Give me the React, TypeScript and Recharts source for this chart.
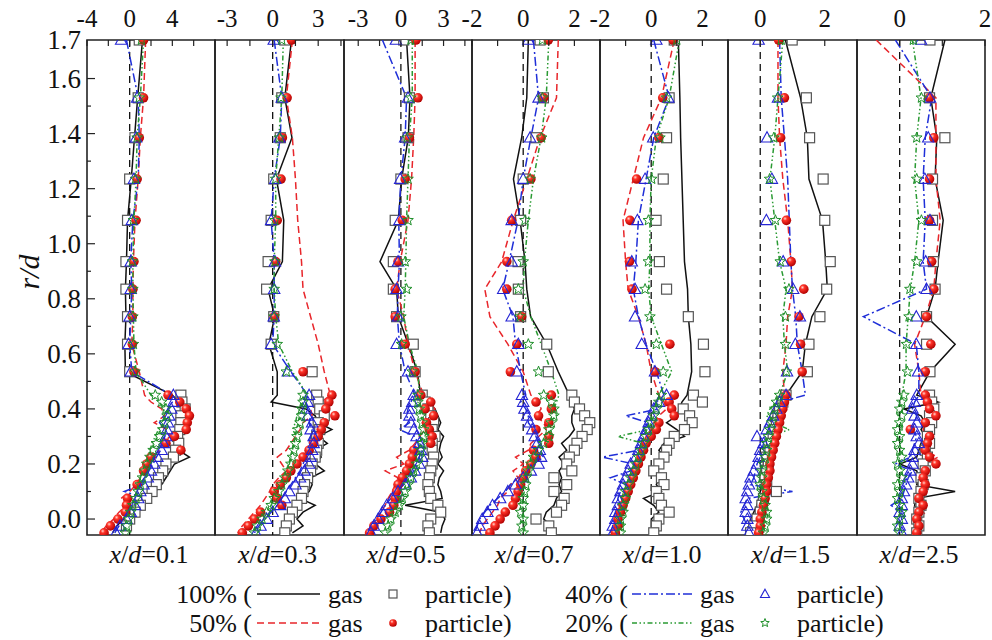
import React from 'react';
import { ScatterChart, Scatter, XAxis, YAxis, ReferenceLine, ReferenceArea } from 'recharts';

const FONT = 'Liberation Serif, Times New Roman, DejaVu Serif, serif';
const serif = { fontFamily: FONT };

// r/d levels: sparse outer positions, then the dense core
const rLevels = [1.74, 1.53, 1.385, 1.235, 1.085, 0.935, 0.835, 0.735, 0.635, 0.535,
  0.45, 0.425, 0.4, 0.375, 0.35, 0.325, 0.3, 0.275, 0.25, 0.225, 0.2, 0.175, 0.15, 0.125, 0.1, 0.075, 0.05, 0.025, 0, -0.025, -0.05];

// x/d = 0.1
const p1Gas100 = [1.2, 0.75, 0.45, 0.15, -0.2, -0.3, -0.4, -0.35, -0.45, -0.4, 4.0, 4.6, 5.0, 4.7, 5.1, 4.6, 4.9, 4.5, 4.6, 5.6, 4.2, 3.8, 3.4, 3.0, 2.4, 1.8, 1.0, 0.3, -0.6, -1.2, -1.6];
const p1Part100 = [0.9, 0.8, 0.5, 0.0, -0.2, -0.35, -0.35, -0.2, -0.2, 0.0, 4.8, 4.9, 5.2, 4.8, 4.8, 4.7, 4.5, 4.6, 4.3, 4.1, 3.4, 3.1, 2.7, 2.5, 2.1, 1.6, 1.0, 0.5, 0.0, -0.3, null];
const p1Gas50 = [1.5, 1.3, 1.0, 0.8, 0.5, 0.35, 0.3, 0.3, 0.2, 0.9, 1.4, 2.0, 3.0, 3.3, 2.3, 3.5, 3.8, 3.0, 2.8, 2.2, 1.8, 1.5, 1.0, 0.6, 0.0, -0.8, -0.3, -1.0, -1.5, -2.2, -2.7];
const p1Part50 = [1.3, 1.3, 0.9, 0.7, 0.6, 0.4, 0.3, 0.25, 0.25, 0.4, 3.6, 4.7, 5.3, 5.6, 5.4, 5.3, 4.2, 3.4, 4.8, 2.0, 1.6, 1.3, null, 0.7, null, -0.2, -0.3, -0.4, -1.1, -1.8, -2.4];
const p1Gas40 = [-0.3, 0.8, 0.9, 0.8, 0.3, 0.1, 0.2, 0.1, 0.0, 0.2, 3.9, 4.0, 3.6, 3.2, 2.8, 3.4, 3.3, 3.0, 2.9, 2.5, 2.2, 1.8, 1.5, 1.2, -0.5, 1.5, 0.4, 0.0, -0.5, -1.0, -1.4];
const p1Part40 = [-0.8, 0.7, 0.6, 0.4, 0.2, 0.1, 0.1, 0.0, -0.1, 0.1, 4.1, 4.1, 3.9, 3.7, 3.6, 3.5, 3.4, 3.2, 3.0, 2.6, 2.3, 2.0, 1.7, 1.3, 1.0, 0.8, 0.5, 0.1, -0.3, -0.9, -1.3];
const p1Gas20 = [1.3, 1.0, 0.7, 0.6, 0.4, 0.3, 0.3, 0.35, 0.4, 0.6, 2.0, 2.8, 3.2, 3.3, 3.0, 2.7, 2.4, 2.1, 1.9, 1.6, 1.4, 1.2, 1.0, 0.8, 0.7, 0.5, 0.3, 0.2, 0.1, 0.0, 0.1];
const p1Part20 = [1.1, 0.9, 0.7, 0.55, 0.35, 0.25, 0.3, 0.3, 0.35, 0.5, 2.4, 3.0, 3.4, 3.5, 3.3, 3.1, 2.8, 2.5, 2.2, 1.9, 1.6, 1.4, 1.2, 1.0, 0.8, 0.6, 0.3, 0.1, -0.1, -0.3, -0.4];

// x/d = 0.3
const p2Gas100 = [1.24, 0.8, 1.27, 0.25, 0.73, 0.64, -0.3, 0.13, -0.25, 0.3, 0.3, -0.1, 2.2, 2.8, 3.0, 3.9, 3.0, 3.6, 2.8, 3.2, 2.8, 3.4, 2.5, 2.6, 2.4, 1.8, 2.8, 2.0, 1.6, 2.0, 1.3];
const p2Part100 = [0.8, 0.6, 0.5, 0.07, -0.1, -0.3, -0.4, 0.07, -0.1, 2.6, 2.9, 3.0, 3.1, 3.4, 3.0, 3.1, 2.9, 3.0, 2.9, 2.8, 2.6, 2.5, 2.3, 2.1, 2.0, 1.9, 1.6, 1.3, 1.1, 0.9, 0.8];
const p2Gas50 = [1.3, 0.9, 1.3, 1.5, 1.65, 1.9, 2.0, 2.5, 3.0, 3.4, 3.8, 3.2, 2.5, 2.6, 2.0, 1.8, 1.5, 1.2, 0.9, 0.3, 0.6, 0.9, 0.4, 0.0, -0.2, -0.5, -0.8, -1.2, -1.6, -2.0, -2.3];
const p2Part50 = [1.24, 0.95, 0.64, 0.55, 0.3, 0.2, null, 0.1, null, 2.0, 3.9, 3.7, 3.5, 4.1, 3.4, 3.2, 3.0, 2.7, 2.4, 2.0, 1.6, 1.2, 0.9, 0.5, 0.1, 0.3, 0.6, -0.8, -1.2, -1.6, -2.0];
const p2Gas40 = [0.1, 0.6, 0.5, 0.1, -0.1, 0.1, 0.1, 0.1, 0.0, 1.2, 2.3, 2.2, 2.3, 2.5, 2.4, 2.6, 2.5, 2.4, 2.3, 2.2, 2.0, 1.8, 1.5, 1.2, 0.9, 0.6, 0.3, -0.1, -0.5, -0.9, -1.2];
const p2Part40 = [0.07, 0.6, 0.45, 0.17, -0.1, 0.15, 0.1, 0.07, -0.1, 1.0, 2.4, 2.3, 2.2, 2.3, 2.6, 2.5, 2.7, 2.7, 2.6, 2.5, 2.4, 2.1, 1.8, 1.5, 1.1, 0.8, 0.5, 0.0, -0.4, -0.8, -1.1];
const p2Gas20 = [0.7, 0.6, 0.4, 0.2, 0.2, 0.1, 0.1, 0.2, 0.4, 1.3, 2.3, 2.0, 1.8, 1.6, 1.5, 1.3, 1.6, 1.4, 1.3, 1.2, 1.1, 0.9, 0.7, 0.5, 0.3, 0.1, -0.1, -0.4, -0.6, -0.8, -1.0];
const p2Part20 = [0.6, 0.55, 0.45, 0.2, 0.15, 0.15, 0.1, 0.1, 0.3, 0.9, 2.0, 2.0, 1.9, 1.9, 1.8, 1.7, 1.6, 1.5, 1.4, 1.3, 1.2, 1.0, 0.8, 0.6, 0.4, 0.1, -0.1, -0.4, -0.7, -1.0, -1.2];

// x/d = 0.5
const p3Gas100 = [0.4, 0.64, 0.52, 0.05, -0.18, -1.47, -0.3, -0.18, 0.52, 1.15, 1.4, 1.9, 2.4, 2.6, 2.8, 2.6, 3.0, 2.8, 2.7, 2.9, 2.6, 3.0, 2.7, 2.6, 2.8, 2.9, 0.3, 2.8, 3.1, 2.9, 2.8];
const p3Part100 = [0.2, 0.6, 0.5, 0.0, -0.4, -0.53, -0.53, -0.3, 0.87, 1.0, 1.5, 1.7, 1.9, 2.1, 2.3, 2.2, 2.4, 2.2, 2.2, 2.3, 2.2, 2.1, 2.0, 1.9, 2.0, 2.1, 2.6, 2.8, 2.1, 1.9, 2.0];
const p3Gas50 = [1.0, 1.0, 0.9, 0.75, 0.5, -0.05, -0.3, 0.2, 0.5, 1.0, 1.6, 2.0, 2.4, 1.9, 1.5, 1.7, 1.3, 1.0, 0.6, -0.3, 0.2, -1.1, -0.2, -0.4, -0.6, -0.9, -1.1, -1.4, -1.7, -2.0, -2.3];
const p3Part50 = [1.06, 1.2, 0.6, 0.3, 0.1, -0.2, -0.4, -0.4, 0.3, 1.0, 1.4, 2.1, 1.7, 2.3, 1.8, 2.0, 2.2, 2.1, 0.9, 0.8, 0.6, 0.4, 0.1, -0.2, -0.3, -0.4, -0.5, -0.8, -1.4, -1.9, -2.2];
const p3Gas40 = [-1.3, 0.4, 0.3, 0.0, -0.15, -0.1, -0.2, -0.25, -0.1, 0.3, 1.0, 0.7, 0.5, 0.4, 0.6, -0.1, 1.0, 1.2, 1.3, 1.5, 1.2, 0.9, 0.6, 0.2, -0.3, -0.7, -1.1, -1.4, -1.7, -2.0, -2.2];
const p3Part40 = [-0.35, 0.5, 0.3, -0.05, -0.1, -0.2, -0.3, -0.2, -0.3, 0.5, 0.9, 0.8, 0.6, 0.6, 0.7, 0.9, 1.1, 1.3, 1.4, 1.5, 1.3, 1.0, 0.7, 0.3, -0.2, -0.6, -1.0, -1.3, -1.6, -1.9, -2.1];
const p3Gas20 = [0.8, 0.8, 0.6, 0.5, 0.4, 0.35, 0.3, 0.2, 0.6, 1.2, 1.3, 1.2, 1.3, 1.4, 1.6, 1.8, 1.7, 1.6, 1.5, 1.3, 1.2, 1.0, 0.8, 0.6, 0.4, 0.2, 0.0, -0.3, -0.5, -0.8, -1.0];
const p3Part20 = [0.7, 0.7, 0.45, 0.5, 0.5, 0.3, 0.4, 0.0, 0.05, 0.8, 1.2, 1.2, 1.3, 1.4, 1.5, 1.6, 1.6, 1.5, 1.4, 1.3, 1.1, 0.9, 0.7, 0.5, 0.3, 0.1, -0.1, -0.4, -0.7, -0.9, -1.1];

// x/d = 0.7
const p4Gas100 = [0.2, 0.14, -0.06, -0.38, -0.12, 0.07, 0.14, 0.29, 0.92, 1.37, 1.8, 1.9, 2.0, 1.9, 1.9, 2.0, 1.8, 1.5, 1.7, 1.4, 1.6, 1.4, 1.5, 1.4, 1.5, 1.3, 1.2, 0.9, 0.8, 1.1, 1.2];
const p4Part100 = [0.66, 0.79, 0.5, 0.0, -0.1, -0.2, -0.19, -0.1, 0.92, 0.98, 1.9, 2.0, 2.2, 2.4, 2.6, 2.5, 2.3, 2.1, 2.0, 1.8, 1.7, 1.9, 1.2, 1.7, 1.2, 1.6, 1.5, 1.3, 0.5, 1.0, 1.1];
const p4Gas50 = [1.37, 1.3, 0.66, 0.14, -0.39, -0.84, -1.5, -1.3, -0.6, 0.0, 0.3, 0.6, 0.7, 0.5, 0.8, 0.9, 0.6, 0.3, 0.2, -0.3, 0.0, -0.4, -0.2, -0.5, -0.6, -0.9, -1.0, -1.2, -1.4, -1.6, -1.7];
const p4Part50 = [0.98, 0.8, 0.7, 0.3, -0.45, -0.64, -0.64, -0.06, -0.25, -0.5, 1.1, 0.5, 1.1, 0.6, 1.0, 0.5, 1.0, 1.0, 0.4, 0.5, 0.3, 0.1, 0.0, -0.1, -0.2, -0.3, -0.4, -0.7, -0.9, -1.1, -1.3];
const p4Gas40 = [0.4, 0.6, 0.3, 0.0, -0.2, -0.55, -0.8, -0.4, -0.3, -0.1, 0.1, -0.1, 0.1, 0.2, 0.2, 0.4, 0.5, 0.6, 0.5, 0.8, 0.4, 0.1, -0.2, -0.5, -0.7, -1.0, -1.3, -1.5, -1.7, -1.8, -1.9];
const p4Part40 = [0.2, 0.6, 0.27, 0.0, -0.45, -0.45, -0.78, -0.45, -0.19, -0.25, -0.05, 0.0, 0.05, 0.15, 0.25, 0.35, 0.45, 0.55, 0.65, 0.7, 0.6, 0.3, 0.0, -0.3, -0.6, -0.9, -1.2, -1.4, -1.6, -1.7, -1.8];
const p4Gas20 = [1.0, 0.9, 0.7, 0.4, 0.2, 0.05, 0.0, 0.3, 0.7, 1.1, 1.4, 1.3, 1.2, 1.3, 1.0, 1.1, 0.9, 0.7, 0.5, 0.3, 0.2, 0.1, 0.05, 0.0, 0.05, -0.05, 0.0, -0.05, 0.0, 0.05, 0.0];
const p4Part20 = [0.75, 0.75, 0.72, 0.27, 0.07, 0.0, -0.19, -0.12, 0.2, 0.6, 0.8, 1.1, 1.2, 1.2, 1.1, 1.0, 1.0, 0.8, 0.6, 0.4, 0.3, 0.2, 0.1, 0.1, 0.05, 0.0, 0.0, -0.1, 0.0, -0.05, 0.0];

// x/d = 1.0
const p5Gas100 = [1.06, 1.12, 1.15, 1.2, 1.25, 1.3, 1.42, 1.45, 1.55, 1.58, 1.4, 1.2, 1.1, 1.0, 0.6, 1.0, 1.3, 0.5, 0.3, 0.5, 0.4, 0.2, 0.3, 0.2, 0.4, -0.3, 0.1, 0.3, 0.0, 0.2, 0.1];
const p5Part100 = [0.9, 0.7, 0.6, 0.47, 0.19, 0.32, 0.6, 1.45, 2.04, 2.1, 1.65, 2.0, 1.25, 1.5, 1.6, 1.3, 0.9, 0.7, 0.6, 0.5, 0.3, 0.1, 0.4, 0.5, 0.2, 0.3, 0.4, 0.7, 0.3, 0.2, 0.1];
const p5Gas50 = [0.9, 0.4, -0.3, -0.7, -1.1, -1.0, -0.9, -0.5, -0.2, 0.0, 0.3, 0.5, 0.6, 0.3, 0.1, 0.0, -0.2, -0.3, -0.4, -0.5, -0.6, -0.7, -0.8, -0.9, -1.0, -1.1, -1.2, -1.2, -1.3, -1.3, -1.4];
const p5Part50 = [0.86, 0.45, 0.3, -0.57, -0.83, -0.85, -0.75, null, 0.73, 0.15, 0.9, 0.7, 0.8, 0.9, 0.3, 0.2, 0.0, -0.2, -0.3, -0.4, -0.5, -0.6, -0.7, -0.8, -0.9, -1.0, -1.1, -1.2, -1.3, -1.3, -1.4];
const p5Gas40 = [0.1, 0.7, 0.1, -0.2, -0.5, -0.6, -0.7, -0.5, -0.2, 0.2, 0.5, 0.2, 0.3, -1.0, -0.1, -0.3, -0.3, -0.4, -0.5, -1.9, -0.7, -0.8, -1.6, -1.0, -1.2, -1.3, -1.3, -1.4, -1.5, -1.5, -1.6];
const p5Part40 = [0.2, 0.67, 0.08, -0.24, -0.54, -0.76, -0.63, -0.63, -0.37, 0.15, 0.6, 0.3, 0.1, 0.0, -0.1, -0.2, -0.3, -0.4, -0.5, -0.6, -0.8, -0.9, -1.0, -1.1, -1.2, -1.3, -1.3, -1.4, -1.4, -1.5, -1.5];
const p5Gas20 = [1.1, 0.7, 0.2, 0.0, -0.05, -0.05, -0.1, 0.0, 0.4, 0.8, 0.3, 0.2, 0.1, 0.1, 0.0, -0.1, -1.3, -0.3, -0.4, -0.5, -0.6, -0.7, -0.8, -0.8, -0.9, -1.0, -1.0, -1.1, -1.1, -1.1, -1.2];
const p5Part20 = [1.0, 0.6, 0.34, 0.02, -0.11, -0.11, -0.24, -0.05, 0.2, 0.47, 0.4, 0.3, 0.2, 0.1, 0.0, -0.1, -0.2, -0.3, -0.4, -0.5, -0.6, -0.7, -0.8, -0.9, -1.0, -1.0, -1.1, -1.1, -1.2, -1.2, -1.2];

// x/d = 1.5
const p6Gas100 = [0.78, 1.25, 1.46, 1.51, 1.93, 2.03, 2.08, 1.6, 1.4, 1.3, 0.8, 0.7, 0.6, 0.5, 0.4, 0.35, 0.3, 0.25, 0.2, 0.15, 0.1, 0.05, 0.0, 0.1, 0.0, -0.05, -0.1, -0.2, -0.3, -0.35, -0.4];
const p6Part100 = [0.99, 1.43, 1.53, 1.95, 2.0, 2.17, 2.06, 1.85, 1.51, 1.46, 0.8, 0.7, 0.6, 0.55, 0.5, 0.45, 0.4, 0.35, 0.3, 0.2, 0.25, 0.2, 0.15, 0.2, 0.5, 0.1, 0.05, 0.0, -0.1, -0.2, -0.3];
const p6Gas50 = [0.55, 0.55, 0.6, 0.7, 0.85, 0.95, 1.0, 0.85, 0.8, 0.7, 0.75, 0.7, 0.65, 0.6, 0.55, 0.5, 0.45, 0.4, 0.35, 0.3, 0.25, 0.2, 0.15, 0.1, 0.15, 0.05, 0.1, 0.0, 0.05, -0.05, 0.0];
const p6Part50 = [0.57, 0.75, 0.63, null, 0.81, 0.96, 1.35, 1.2, 1.25, 1.3, 0.8, 0.75, 0.7, 0.65, 0.6, 0.55, 0.5, 0.45, 0.4, 0.35, 0.3, 0.3, 0.25, 0.2, 0.2, 0.15, 0.1, 0.05, 0.0, 0.0, -0.05];
const p6Gas40 = [0.6, 0.65, 0.75, 0.85, 0.9, 0.95, 1.0, 1.1, 1.15, 1.3, 1.4, 0.6, 0.5, 0.4, 0.3, 0.25, 0.15, 0.1, 0.05, 0.0, -0.1, -0.15, -0.2, -0.3, 1.0, -0.4, -0.5, -0.6, -0.5, -0.4, -0.3];
const p6Part40 = [-0.05, 0.55, 0.21, 0.36, 0.19, 0.71, 1.02, 1.23, 1.09, 0.83, 0.8, 0.6, 0.5, 0.4, 0.3, 0.2, -0.1, 0.1, 0.0, -0.05, -0.1, -0.2, -0.3, -0.35, -0.4, -0.45, -0.4, -0.45, -0.4, -0.4, -0.35];
const p6Gas20 = [0.7, 0.55, 0.45, 0.3, 0.45, 0.6, 0.8, 0.7, 0.75, 0.85, 0.6, 0.5, 0.3, 0.2, 0.4, 0.9, 0.3, 0.25, 0.2, 0.15, 0.1, 0.0, 0.05, 0.0, 0.1, 0.15, 0.2, 0.25, 0.2, 0.15, 0.1];
const p6Part20 = [0.65, 0.54, 0.42, 0.29, 0.47, 0.62, 0.89, 0.78, 0.78, 0.81, 0.6, 0.5, 0.45, 0.4, 0.35, 0.3, 0.25, 0.2, 0.2, 0.15, 0.1, 0.05, 0.05, 0.0, 0.05, 0.1, 0.15, 0.2, 0.2, 0.15, 0.1];

// x/d = 2.5
const p7Gas100 = [1.06, 0.73, 0.87, 0.83, 1.02, 0.9, 0.83, 0.63, 1.3, 0.71, 0.4, 0.9, 0.1, 0.5, 0.6, 0.5, 0.6, 0.5, 0.45, 0.4, 0.0, 0.4, 0.45, 0.4, 1.3, 0.4, 0.35, 0.4, 0.45, 0.4, 0.45];
const p7Part100 = [0.71, 0.7, 1.06, 0.77, 0.77, 0.79, 0.83, 0.63, 0.63, 0.71, 0.7, 0.75, 0.8, 0.7, 0.75, 0.7, 0.65, 0.7, 0.6, 0.65, 0.55, 0.6, 0.5, 0.55, 0.5, 0.45, 0.5, 0.45, 0.4, 0.45, 0.4];
const p7Gas50 = [-0.55, 0.85, 0.85, 0.85, 0.95, 0.85, 0.8, 0.6, 0.35, 0.45, 0.5, 0.6, 0.65, 0.7, 0.6, 0.55, 0.65, 0.6, 0.55, 0.9, 0.6, 0.55, 0.5, 0.55, 0.5, 0.45, 0.5, 0.6, 0.45, 0.5, 0.45];
const p7Part50 = [null, 0.7, 0.8, 0.7, 0.7, 0.75, 0.8, 0.63, 0.73, 0.6, 0.6, 0.65, 0.7, 0.85, 0.6, 0.25, 0.7, 0.65, 0.6, 0.7, 0.85, 0.6, 0.55, 0.6, 0.55, 0.45, 0.55, 0.45, 0.4, 0.45, 0.4];
const p7Gas40 = [-0.1, 0.75, 0.6, 0.55, 0.6, 0.55, 0.63, -0.85, 0.39, 0.45, 0.45, 0.35, 0.3, 0.4, 0.35, 0.3, 0.4, 0.35, 0.3, 0.25, -0.1, 0.3, 0.2, 0.15, 0.1, 0.05, -0.2, 0.0, 0.05, 0.0, 0.05];
const p7Part40 = [0.5, 0.71, 0.67, 0.59, 0.71, 0.61, 0.63, 0.39, 0.39, 0.43, 0.4, 0.35, 0.3, 0.35, 0.4, 0.35, 0.4, 0.45, 0.35, 0.3, 0.3, 0.25, 0.2, 0.15, 0.1, 0.05, 0.05, 0.0, 0.05, 0.0, 0.05];
const p7Gas20 = [0.3, 0.5, 0.4, 0.35, 0.45, 0.35, 0.25, 0.2, 0.15, 0.15, 0.05, 0.0, 0.08, -0.04, 0.02, 0.06, -0.05, 0.0, 0.04, -0.06, 0.01, 0.05, -0.03, 0.0, 0.06, -0.05, 0.02, 0.04, -0.05, 0.0, 0.03];
const p7Part20 = [0.32, 0.51, 0.4, 0.4, 0.51, 0.4, 0.24, 0.22, 0.16, 0.18, 0.1, 0.05, 0.0, 0.05, 0.0, -0.05, 0.0, -0.05, 0.0, 0.05, -0.05, 0.0, 0.05, -0.05, 0.0, -0.05, 0.0, 0.05, 0.0, -0.05, 0.0];

const panelNames = ['0.1', '0.3', '0.5', '0.7', '1.0', '1.5', '2.5'];
const xDomains = [[-4, 8], [-3.8, 4.7], [-4, 5], [-2, 3], [-2, 3], [-1, 3], [-1, 2]];
const xTicks = [[-4, -2, 0, 2, 4, 6], [-3, -1.5, 0, 1.5, 3, 4.5], [-3, -1.5, 0, 1.5, 3, 4.5], [-2, -1, 0, 1, 2], [-2, -1, 0, 1, 2], [0, 2], [0, 1, 2]];
const xTickLabels = [[-4, 0, 4], [-3, 0, 3], [-3, 0, 3], [-2, 0, 2], [-2, 0, 2], [0, 2], [0, 2]];
const yTicks = [0, 0.1, 0.2, 0.3, 0.4, 0.5, 0.6, 0.7, 0.8, 0.9, 1.0, 1.1, 1.2, 1.3, 1.4, 1.5, 1.6, 1.74];
const yTickLabels = [0, 0.2, 0.4, 0.6, 0.8, 1.0, 1.2, 1.4, 1.6, 1.74];
const yDomain = [-0.058, 1.74];
const legendPercents = ['100%', '50%', '40%', '20%'];

const gasByPanel = [
  [p1Gas100, p1Gas50, p1Gas40, p1Gas20],
  [p2Gas100, p2Gas50, p2Gas40, p2Gas20],
  [p3Gas100, p3Gas50, p3Gas40, p3Gas20],
  [p4Gas100, p4Gas50, p4Gas40, p4Gas20],
  [p5Gas100, p5Gas50, p5Gas40, p5Gas20],
  [p6Gas100, p6Gas50, p6Gas40, p6Gas20],
  [p7Gas100, p7Gas50, p7Gas40, p7Gas20],
];
const partByPanel = [
  [p1Part100, p1Part50, p1Part40, p1Part20],
  [p2Part100, p2Part50, p2Part40, p2Part20],
  [p3Part100, p3Part50, p3Part40, p3Part20],
  [p4Part100, p4Part50, p4Part40, p4Part20],
  [p5Part100, p5Part50, p5Part40, p5Part20],
  [p6Part100, p6Part50, p6Part40, p6Part20],
  [p7Part100, p7Part50, p7Part40, p7Part20],
];

// layout
const panelEdges = [87, 215, 344, 472, 600, 728, 857, 985];

const gasStyles = [
  { stroke: '#111111', strokeWidth: 1.5 },
  { stroke: '#e8262b', strokeWidth: 1.5, strokeDasharray: '7 4' },
  { stroke: '#1f2fd8', strokeWidth: 1.5, strokeDasharray: '9 3 2 3' },
  { stroke: '#2a9a33', strokeWidth: 1.5, strokeDasharray: '5 2.5 1.5 2.5 1.5 2.5' },
];

const toPoints = (vals: (number | null)[]) =>
  vals.flatMap((v, k) => (v === null ? [] : [{ x: v, y: rLevels[k] }]));

function starPath(cx: number, cy: number, R: number, r: number) {
  let d = '';
  for (let k = 0; k < 10; k++) {
    const a = -Math.PI / 2 + (k * Math.PI) / 5;
    const rad = k % 2 === 0 ? R : r;
    d += (k === 0 ? 'M' : 'L') + (cx + rad * Math.cos(a)).toFixed(2) + ',' + (cy + rad * Math.sin(a)).toFixed(2);
  }
  return d + 'Z';
}

function Marker({ kind, cx, cy, s = 1, grad }: { kind: number; cx: number; cy: number; s?: number; grad: string }) {
  if (cx == null || cy == null || isNaN(cx) || isNaN(cy)) return <g />;
  if (kind === 0) {
    const h = 5 * s;
    return <rect x={cx - h} y={cy - h} width={2 * h} height={2 * h} fill="#fff" stroke="#555" strokeWidth={1.2} />;
  }
  if (kind === 1) return <circle cx={cx} cy={cy} r={4.8 * s} fill={`url(#${grad})`} />;
  if (kind === 2) {
    const h = 6 * s;
    return (
      <path
        d={`M${cx},${cy - h} L${cx + h * 0.95},${cy + h * 0.72} L${cx - h * 0.95},${cy + h * 0.72} Z`}
        fill="none"
        stroke="#2424d4"
        strokeWidth={1.1}
      />
    );
  }
  return <path d={starPath(cx, cy, 5.6 * s, 2.4 * s)} fill="none" stroke="#1f8f2a" strokeWidth={1} />;
}

function BallGradient({ id }: { id: string }) {
  return (
    <radialGradient id={id} cx="36%" cy="32%" r="70%">
      <stop offset="0%" stopColor="#ffd6cc" />
      <stop offset="30%" stopColor="#ff3328" />
      <stop offset="100%" stopColor="#b00000" />
    </radialGradient>
  );
}

function XdLabel({ x, y, name }: { x: number; y: number; name: string }) {
  return (
    <text x={x} y={y} textAnchor="middle" fontSize={26} style={serif} fill="#111">
      <tspan fontStyle="italic">x</tspan>
      <tspan>/</tspan>
      <tspan fontStyle="italic">d</tspan>
      <tspan>={name}</tspan>
    </text>
  );
}

function Panel({ i }: { i: number }) {
  const left = panelEdges[i];
  const w = panelEdges[i + 1] - left;
  const first = i === 0;
  const yW = first ? 50 : 0;
  const marginL = first ? 37 : 30;
  const chartLeft = first ? 0 : left - 30;
  const plotLeft = marginL + yW;
  const chartWidth = plotLeft + w + 30;
  const dom = xDomains[i];
  const grad = `ball${i}`;
  const labels = xTickLabels[i];

  const topTick = (p: any) => {
    const v = p.payload.value;
    return (
      <g>
        <line x1={p.x} y1={p.y} x2={p.x} y2={p.y + 6} stroke="#222" strokeWidth={1.2} />
        {labels.includes(v) && (
          <text x={p.x} y={p.y - 13} textAnchor="middle" fontSize={25} style={serif} fill="#111">
            {String(v)}
          </text>
        )}
      </g>
    );
  };

  const leftTick = (p: any) => {
    const v = p.payload.value;
    const major = yTickLabels.includes(v);
    const edge = v > 1.65;
    return (
      <g>
        {!edge && <line x1={p.x} y1={p.y} x2={p.x + (major ? 8 : 4)} y2={p.y} stroke="#222" strokeWidth={1.2} />}
        {major && (
          <text x={p.x - 6} y={p.y} dy="0.35em" textAnchor="end" fontSize={27} style={serif} fill="#111">
            {v.toFixed(1)}
          </text>
        )}
      </g>
    );
  };

  return (
    <div style={{ position: 'absolute', left: chartLeft, top: 0 }}>
      <ScatterChart width={chartWidth} height={580} margin={{ top: 10, right: 30, bottom: 45, left: marginL }}>
        <defs>
          <BallGradient id={grad} />
        </defs>
        <XAxis
          type="number"
          dataKey="x"
          orientation="top"
          height={30}
          domain={dom}
          allowDataOverflow
          ticks={xTicks[i]}
          interval={0}
          tickSize={0}
          tickMargin={0}
          axisLine={false}
          tickLine={false}
          tick={topTick}
          label={() => <XdLabel x={plotLeft + w / 2 - 2} y={563} name={panelNames[i]} />}
        />
        <YAxis
          type="number"
          dataKey="y"
          domain={yDomain}
          allowDataOverflow
          hide={!first}
          width={yW}
          ticks={yTicks}
          interval={0}
          tickSize={0}
          tickMargin={0}
          axisLine={false}
          tickLine={false}
          tick={leftTick}
          label={
            first
              ? () => (
                  <text
                    x={28}
                    y={272}
                    transform="rotate(-90, 28, 272)"
                    textAnchor="middle"
                    dy="0.35em"
                    fontSize={30}
                    fontStyle="italic"
                    style={serif}
                    fill="#111"
                  >
                    r/d
                  </text>
                )
              : undefined
          }
        />
        <ReferenceLine x={0} stroke="#111" strokeWidth={1.3} strokeDasharray="7 5" />
        {gasByPanel[i].map((vals, k) => (
          <Scatter
            key={`g${k}`}
            data={toPoints(vals)}
            line={gasStyles[k]}
            lineType="joint"
            fill={gasStyles[k].stroke}
            shape={() => <g />}
            isAnimationActive={false}
          />
        ))}
        {partByPanel[i].map((vals, k) => (
          <Scatter
            key={`p${k}`}
            data={toPoints(vals)}
            fill={gasStyles[k].stroke}
            shape={(p: any) => <Marker kind={k} cx={p.cx} cy={p.cy} grad={grad} />}
            isAnimationActive={false}
          />
        ))}
        <ReferenceArea
          x1={dom[0]}
          x2={dom[1]}
          y1={yDomain[0]}
          y2={yDomain[1]}
          fill="none"
          fillOpacity={0}
          stroke="#222"
          strokeWidth={1.6}
          ifOverflow="visible"
        />
      </ScatterChart>
    </div>
  );
}

function LegendBox() {
  const rows = [33, 62];
  const cols = [
    { end: 252, l0: 257, l1: 320, gas: 328, mark: 393, part: 425 },
    { end: 628, l0: 632, l1: 693, gas: 700, mark: 765, part: 797 },
  ];
  const txt = { fontSize: 26, style: serif, fill: '#111' };
  return (
    <svg width={992} height={70} style={{ position: 'absolute', left: 0, top: 570 }}>
      <defs>
        <BallGradient id="ballLegend" />
      </defs>
      {legendPercents.map((pct, k) => {
        const c = cols[k < 2 ? 0 : 1];
        const y = rows[k % 2];
        const mid = y - 9;
        return (
          <g key={pct}>
            <text x={c.end} y={y} textAnchor="end" {...txt}>{`${pct} (`}</text>
            <line x1={c.l0} y1={mid} x2={c.l1} y2={mid} {...gasStyles[k]} />
            <text x={c.gas} y={y} {...txt}>gas</text>
            <Marker kind={k} cx={c.mark} cy={mid} s={0.8} grad="ballLegend" />
            <text x={c.part} y={y} {...txt}>particle)</text>
          </g>
        );
      })}
    </svg>
  );
}

export default function App() {
  return (
    <div
      style={{
        position: 'absolute',
        left: 0,
        top: 0,
        width: 992,
        height: 640,
        background: '#fff',
        overflow: 'hidden',
        fontFamily: FONT,
      }}
    >
      {panelNames.map((_, i) => (
        <Panel key={i} i={i} />
      ))}
      <LegendBox />
    </div>
  );
}
